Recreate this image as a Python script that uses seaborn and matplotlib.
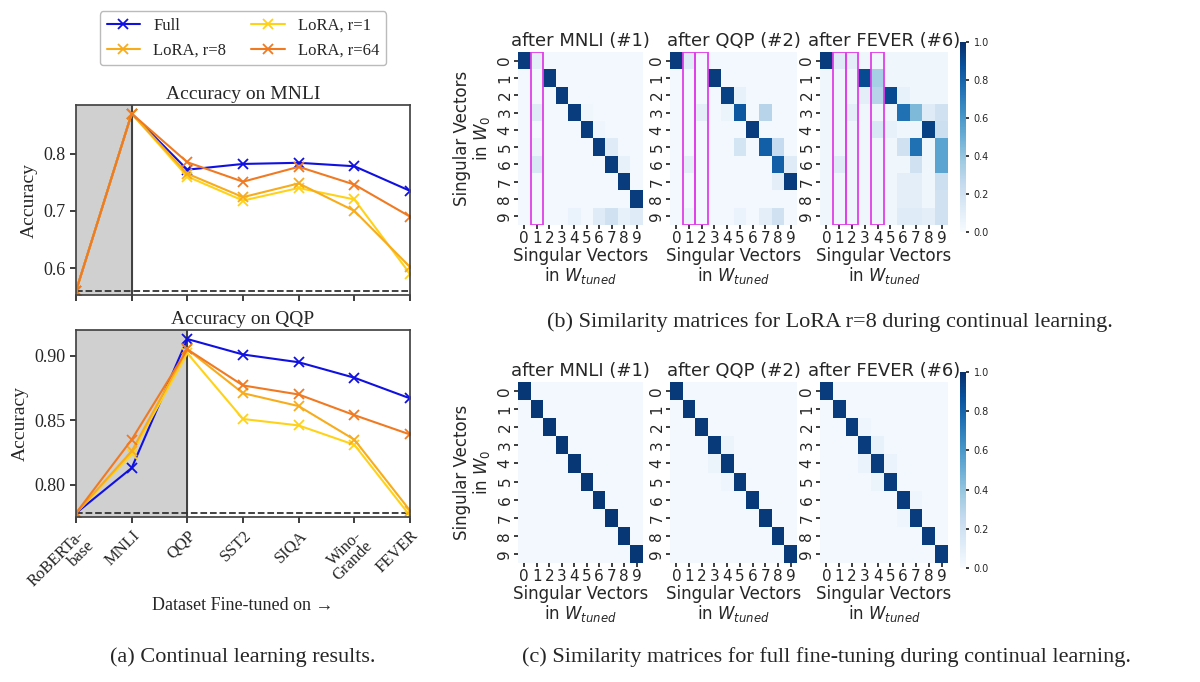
import numpy as np
import pandas as pd
import matplotlib
matplotlib.use("Agg")
import matplotlib.pyplot as plt
import seaborn as sns
from matplotlib.patches import Rectangle

sns.set_theme(style="white")

# ---- line chart data ----
datasets = ["RoBERTa-\nbase", "MNLI", "QQP", "SST2", "SIQA", "Wino-\nGrande", "FEVER"]
methods = ["Full", "LoRA, r=1", "LoRA, r=8", "LoRA, r=64"]
colors = ["#1010e0", "#ffd21a", "#f7ac1c", "#f07a22"]

mnli_full = [0.560, 0.870, 0.772, 0.782, 0.784, 0.778, 0.735]
mnli_r1 = [0.560, 0.870, 0.760, 0.718, 0.740, 0.720, 0.590]
mnli_r8 = [0.560, 0.870, 0.765, 0.724, 0.748, 0.700, 0.602]
mnli_r64 = [0.560, 0.870, 0.785, 0.751, 0.777, 0.746, 0.690]

qqp_full = [0.778, 0.813, 0.913, 0.901, 0.895, 0.883, 0.867]
qqp_r1 = [0.778, 0.824, 0.902, 0.851, 0.846, 0.831, 0.776]
qqp_r8 = [0.778, 0.826, 0.905, 0.871, 0.861, 0.835, 0.780]
qqp_r64 = [0.778, 0.835, 0.905, 0.877, 0.870, 0.854, 0.839]

# ---- heatmap data (10x10 similarity matrices) ----
def base(val=0.02):
    return np.full((10, 10), val)

lora_mnli = base()
for r, c in [(0, 0), (1, 2), (2, 3), (3, 4), (4, 5), (5, 6), (6, 7), (7, 8), (8, 9)]:
    lora_mnli[r, c] = 0.95
for r, c, v in [(0, 1, 0.1), (3, 1, 0.12), (6, 1, 0.15), (5, 1, 0.06), (9, 6, 0.12),
                (9, 7, 0.2), (9, 8, 0.08), (9, 9, 0.12), (5, 7, 0.12), (6, 8, 0.08),
                (9, 4, 0.07), (3, 5, 0.04), (4, 6, 0.05)]:
    lora_mnli[r, c] = v

lora_qqp = base()
for r, c, v in [(0, 0, 0.95), (1, 3, 0.95), (2, 4, 0.93), (3, 5, 0.85), (4, 6, 0.95),
                (5, 7, 0.82), (6, 8, 0.82), (7, 9, 0.95), (3, 7, 0.3), (5, 5, 0.18),
                (5, 8, 0.25), (9, 8, 0.2), (0, 1, 0.12), (3, 2, 0.1), (6, 1, 0.1),
                (9, 7, 0.1), (6, 9, 0.12), (7, 8, 0.1), (2, 5, 0.08), (3, 4, 0.06),
                (9, 5, 0.07), (9, 1, 0.06)]:
    lora_qqp[r, c] = v

lora_fever = base(0.04)
for r, c, v in [(0, 0, 0.95), (1, 3, 0.9), (1, 4, 0.35), (2, 4, 0.3), (2, 5, 0.9),
                (3, 6, 0.75), (3, 7, 0.45), (3, 8, 0.12), (3, 9, 0.2), (4, 8, 0.93),
                (4, 4, 0.15), (4, 9, 0.22), (5, 6, 0.2), (5, 7, 0.75), (5, 9, 0.55),
                (6, 7, 0.2), (6, 9, 0.55), (7, 9, 0.22), (8, 9, 0.2), (9, 9, 0.2),
                (0, 1, 0.12), (0, 2, 0.1), (6, 1, 0.12), (3, 2, 0.1), (2, 3, 0.1),
                (9, 6, 0.12), (9, 7, 0.12), (7, 6, 0.1), (8, 6, 0.1), (4, 5, 0.08),
                (2, 6, 0.08), (9, 8, 0.1), (7, 7, 0.1), (8, 7, 0.1)]:
    lora_fever[r, c] = v

full_mnli = base(0.02)
np.fill_diagonal(full_mnli, 0.97)
full_qqp = base(0.02)
np.fill_diagonal(full_qqp, 0.96)
for r, c, v in [(3, 4, 0.06), (4, 3, 0.06), (5, 4, 0.05)]:
    full_qqp[r, c] = v
full_fever = base(0.02)
np.fill_diagonal(full_fever, 0.95)
for r, c, v in [(3, 4, 0.08), (4, 3, 0.07), (4, 5, 0.07), (5, 4, 0.06), (2, 3, 0.05),
                (6, 7, 0.05), (7, 6, 0.05)]:
    full_fever[r, c] = v

titles = ["after MNLI (#1)", "after QQP (#2)", "after FEVER (#6)"]
lora_boxes = [[1], [1, 2], [1, 2, 4]]

fig = plt.figure(figsize=(12, 6.82), dpi=100)
H = 682.0

def axes_px(x0, y0, x1, y1):
    return fig.add_axes([x0 / 1200, 1 - y1 / H, (x1 - x0) / 1200, (y1 - y0) / H])

serif = "Liberation Serif"

# ---- line charts ----
ax1 = axes_px(76, 105, 410, 295)
ax2 = axes_px(76, 330, 410, 517)
panels = [
    (ax1, "Accuracy on MNLI", [mnli_full, mnli_r1, mnli_r8, mnli_r64], 1, (0.553, 0.885), [0.6, 0.7, 0.8], "{:.1f}"),
    (ax2, "Accuracy on QQP", [qqp_full, qqp_r1, qqp_r8, qqp_r64], 2, (0.775, 0.920), [0.80, 0.85, 0.90], "{:.2f}"),
]
x = np.arange(len(datasets))
for ax, title, series, shade, ylim, yt, fmt in panels:
    ax.axvspan(0, shade, color="#d0d0d0", zorder=0)
    ax.axvline(shade, color="#333333", lw=1.3)
    ax.axhline(series[0][0], color="#333333", ls="--", lw=1.3)
    for name, vals, col in zip(methods, series, colors):
        df = pd.DataFrame({"x": x, "y": vals})
        sns.lineplot(data=df, x="x", y="y", ax=ax, color=col, marker="x", markersize=7,
                     markeredgecolor=col, markeredgewidth=1.3, lw=1.5, label=name)
    ax.set_xlim(0, len(datasets) - 1)
    ax.set_ylim(*ylim)
    ax.set_yticks(yt)
    ax.set_yticklabels([fmt.format(v) for v in yt], fontsize=13, family=serif)
    ax.set_title(title, fontsize=14, family=serif, pad=4)
    ax.set_ylabel("Accuracy", fontsize=14, family=serif)
    ax.set_xlabel("")
    ax.get_legend().remove()
    ax.set_xticks(x)
    ax.tick_params(axis="both", direction="out", length=4, left=True, bottom=True)
    for s in ax.spines.values():
        s.set_color("#444444")
ax1.set_xticklabels([])
ax2.set_xticklabels(datasets, rotation=45, ha="right", rotation_mode="anchor",
                    fontsize=12, family=serif, linespacing=0.9)
handles, labels = ax1.get_legend_handles_labels()
fig.legend([handles[0], handles[2], handles[1], handles[3]],
           [labels[0], labels[2], labels[1], labels[3]],
           loc="upper center", bbox_to_anchor=(243 / 1200, 1 - 3 / H), ncol=2,
           prop={"family": serif, "size": 12}, frameon=True, edgecolor="#aaaaaa",
           columnspacing=1.5, handlelength=2)
fig.text(243 / 1200, 1 - 605 / H, "Dataset Fine-tuned on →", ha="center", va="center",
         fontsize=13, family=serif)
fig.text(243 / 1200, 1 - 657 / H, "(a) Continual learning results.", ha="center",
         va="center", fontsize=16, family=serif)

# ---- heatmaps ----
xs = [(518, 643), (670, 797), (820, 948)]
rows = [(52, 225, [lora_mnli, lora_qqp, lora_fever], True, (960, 966, 42, 232)),
        (382, 563, [full_mnli, full_qqp, full_fever], False, (960, 966, 372, 568))]
for y0, y1, mats, boxes, cb in rows:
    last = None
    for i, ((x0, x1), m) in enumerate(zip(xs, mats)):
        ax = axes_px(x0, y0, x1, y1)
        last = sns.heatmap(m, ax=ax, cmap="Blues", vmin=0, vmax=1, cbar=False, square=False,
                           xticklabels=1, yticklabels=1)
        ax.set_title(titles[i], fontsize=13, pad=4)
        ax.set_xticklabels(range(10), rotation=0, fontsize=11)
        ax.set_yticklabels(range(10), rotation=90, fontsize=11, va="center")
        ax.tick_params(length=3, left=True, bottom=True, pad=1)
        ax.set_xlabel("Singular Vectors\nin $W_{tuned}$", fontsize=12, labelpad=1, linespacing=1.0)
        if i == 0:
            ax.set_ylabel("Singular Vectors\nin $W_0$", fontsize=12, linespacing=1.0)
        if boxes:
            for c in lora_boxes[i]:
                ax.add_patch(Rectangle((c, 0), 1, 10, fill=False, edgecolor="#e040e8", lw=1.3))
    cax = axes_px(cb[0], cb[2], cb[1], cb[3])
    fig.colorbar(last.collections[0], cax=cax, ticks=[0, 0.2, 0.4, 0.6, 0.8, 1.0])
    cax.tick_params(labelsize=7, length=2)
    cax.set_yticklabels(["0.0", "0.2", "0.4", "0.6", "0.8", "1.0"])
    for s in cax.spines.values():
        s.set_visible(False)

fig.text(830 / 1200, 1 - 322 / H, "(b) Similarity matrices for LoRA r=8 during continual learning.",
         ha="center", va="center", fontsize=16, family=serif)
fig.text(827 / 1200, 1 - 657 / H, "(c) Similarity matrices for full fine-tuning during continual learning.",
         ha="center", va="center", fontsize=16, family=serif)

fig.savefig("out.png", dpi=100)
